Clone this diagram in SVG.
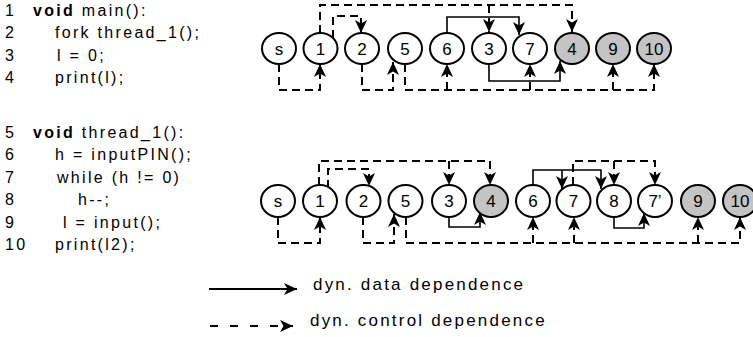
<svg xmlns="http://www.w3.org/2000/svg" width="753" height="337" viewBox="0 0 753 337">
<defs>
<style>
.code{font-family:"Liberation Sans",Arial,sans-serif;font-size:16px;letter-spacing:2.3px;fill:#000}
.leg{font-family:"Liberation Sans",Arial,sans-serif;font-size:17px;letter-spacing:2.2px;fill:#000}
.nl{font-family:"Liberation Sans",Arial,sans-serif;font-size:17px;text-anchor:middle;fill:#000}
.n ellipse{fill:#fff;stroke:#000;stroke-width:2}
.n.g ellipse{fill:#c4c4c4}
.d{fill:none;stroke:#000;stroke-width:2;stroke-dasharray:8,5;marker-end:url(#ah)}
.dn{fill:none;stroke:#000;stroke-width:2;stroke-dasharray:8,5}
.s{fill:none;stroke:#000;stroke-width:1.6;marker-end:url(#ah)}
</style>
<marker id="ah" viewBox="0 0 13 12" refX="13" refY="6" markerWidth="13" markerHeight="12" markerUnits="userSpaceOnUse" orient="auto">
<path d="M0,0 L13,6 L0,12 L3.5,6 z" fill="#000"/>
</marker>
</defs>

<g id="code">
<text class="code" x="5" y="16">1</text><text class="code" x="33" y="16"><tspan font-weight="bold">void</tspan> main():</text>
<text class="code" x="5" y="38">2</text><text class="code" x="55" y="38">fork thread_1();</text>
<text class="code" x="5" y="60.5">3</text><text class="code" x="57" y="60.5">l = 0;</text>
<text class="code" x="5" y="83">4</text><text class="code" x="55" y="83">print(l);</text>
<text class="code" x="5" y="138">5</text><text class="code" x="33" y="138"><tspan font-weight="bold">void</tspan> thread_1():</text>
<text class="code" x="5" y="160">6</text><text class="code" x="55" y="160">h = inputPIN();</text>
<text class="code" x="5" y="183">7</text><text class="code" x="57" y="183">while (h != 0)</text>
<text class="code" x="5" y="205">8</text><text class="code" x="78" y="205">h--;</text>
<text class="code" x="5" y="227.5">9</text><text class="code" x="63" y="227.5">l = input();</text>
<text class="code" x="5" y="250">10</text><text class="code" x="55" y="250">print(l2);</text>
</g>

<g id="connectors">
<!-- top row -->
<path class="d" d="M320,33 V5 H572 V32"/>
<path class="d" d="M489,5 V32"/>
<path class="d" d="M333,38 V16 H361 V33"/>
<path class="d" d="M279,64 V90 H320 V64"/>
<path class="d" d="M362,64 V90 H393 V62"/>
<path class="d" d="M405,64 V90 H654 V64"/>
<path class="d" d="M447,90 V64"/>
<path class="d" d="M530,90 V64"/>
<path class="d" d="M613,90 V64"/>
<path class="s" d="M447,33 V17 H519 V35"/>
<path class="s" d="M489,64 V81 H560 V61"/>
<!-- bottom row -->
<path class="d" d="M319,185 V161 H490 V185"/>
<path class="d" d="M449,161 V185"/>
<path class="d" d="M328,188 V169 H369 V186"/>
<path class="d" d="M278,217 V243 H320 V217"/>
<path class="d" d="M363,217 V243 H394 V214"/>
<path class="d" d="M406,217 V243 H740 V217"/>
<path class="d" d="M533,243 V217"/>
<path class="d" d="M574,243 V217"/>
<path class="d" d="M698,243 V217"/>
<path class="s" d="M449,217 V227 H480 V212"/>
<path class="s" d="M533,185 V170 H601 V189"/>
<path class="s" d="M562,170 V189"/>
<path class="d" d="M573,185 V161 H655 V185"/>
<path class="d" d="M614,161 V185"/>
<path class="s" d="M614,217 V228 H644 V213"/>
</g>

<g id="top-s" class="n"><ellipse cx="279" cy="48.5" rx="17" ry="15.5"/><text class="nl" x="279" y="54.5">s</text></g>
<g id="top-1" class="n"><ellipse cx="320.5" cy="48.5" rx="17" ry="15.5"/><text class="nl" x="320.5" y="54.5">1</text></g>
<g id="top-2" class="n"><ellipse cx="362" cy="48.5" rx="17" ry="15.5"/><text class="nl" x="362" y="54.5">2</text></g>
<g id="top-5" class="n"><ellipse cx="405" cy="48.5" rx="17" ry="15.5"/><text class="nl" x="405" y="54.5">5</text></g>
<g id="top-6" class="n"><ellipse cx="447" cy="48.5" rx="17" ry="15.5"/><text class="nl" x="447" y="54.5">6</text></g>
<g id="top-3" class="n"><ellipse cx="489" cy="48.5" rx="17" ry="15.5"/><text class="nl" x="489" y="54.5">3</text></g>
<g id="top-7" class="n"><ellipse cx="530" cy="48.5" rx="17" ry="15.5"/><text class="nl" x="530" y="54.5">7</text></g>
<g id="top-4" class="n g"><ellipse cx="572" cy="48.5" rx="17" ry="15.5"/><text class="nl" x="572" y="54.5">4</text></g>
<g id="top-9" class="n g"><ellipse cx="613" cy="48.5" rx="17" ry="15.5"/><text class="nl" x="613" y="54.5">9</text></g>
<g id="top-10" class="n g"><ellipse cx="654" cy="48.5" rx="17" ry="15.5"/><text class="nl" x="654" y="54.5">10</text></g>

<g id="bot-s" class="n"><ellipse cx="278" cy="201" rx="17" ry="16"/><text class="nl" x="278" y="207">s</text></g>
<g id="bot-1" class="n"><ellipse cx="320" cy="201" rx="17" ry="16"/><text class="nl" x="320" y="207">1</text></g>
<g id="bot-2" class="n"><ellipse cx="363.5" cy="201" rx="17" ry="16"/><text class="nl" x="363.5" y="207">2</text></g>
<g id="bot-5" class="n"><ellipse cx="405.5" cy="201" rx="17" ry="16"/><text class="nl" x="405.5" y="207">5</text></g>
<g id="bot-3" class="n"><ellipse cx="449" cy="201" rx="17" ry="16"/><text class="nl" x="449" y="207">3</text></g>
<g id="bot-4" class="n g"><ellipse cx="491" cy="201" rx="17" ry="16"/><text class="nl" x="491" y="207">4</text></g>
<g id="bot-6" class="n"><ellipse cx="533" cy="201" rx="17" ry="16"/><text class="nl" x="533" y="207">6</text></g>
<g id="bot-7" class="n"><ellipse cx="573.5" cy="201" rx="17" ry="16"/><text class="nl" x="573.5" y="207">7</text></g>
<g id="bot-8" class="n"><ellipse cx="614" cy="201" rx="17" ry="16"/><text class="nl" x="614" y="207">8</text></g>
<g id="bot-7p" class="n"><ellipse cx="655" cy="201" rx="17" ry="16"/><text class="nl" x="655" y="207">7’</text></g>
<g id="bot-9" class="n g"><ellipse cx="698" cy="201" rx="17" ry="16"/><text class="nl" x="698" y="207">9</text></g>
<g id="bot-10" class="n g"><ellipse cx="740" cy="201" rx="17" ry="16"/><text class="nl" x="740" y="207">10</text></g>

<g id="legend">
<path d="M209,289 H297" fill="none" stroke="#000" stroke-width="2" marker-end="url(#ah)"/>
<text class="leg" x="313" y="290">dyn. data dependence</text>
<path d="M210,326 H293" fill="none" stroke="#000" stroke-width="2" stroke-dasharray="8,12" marker-end="url(#ah)"/>
<text class="leg" x="310" y="326">dyn. control dependence</text>
</g>
</svg>
